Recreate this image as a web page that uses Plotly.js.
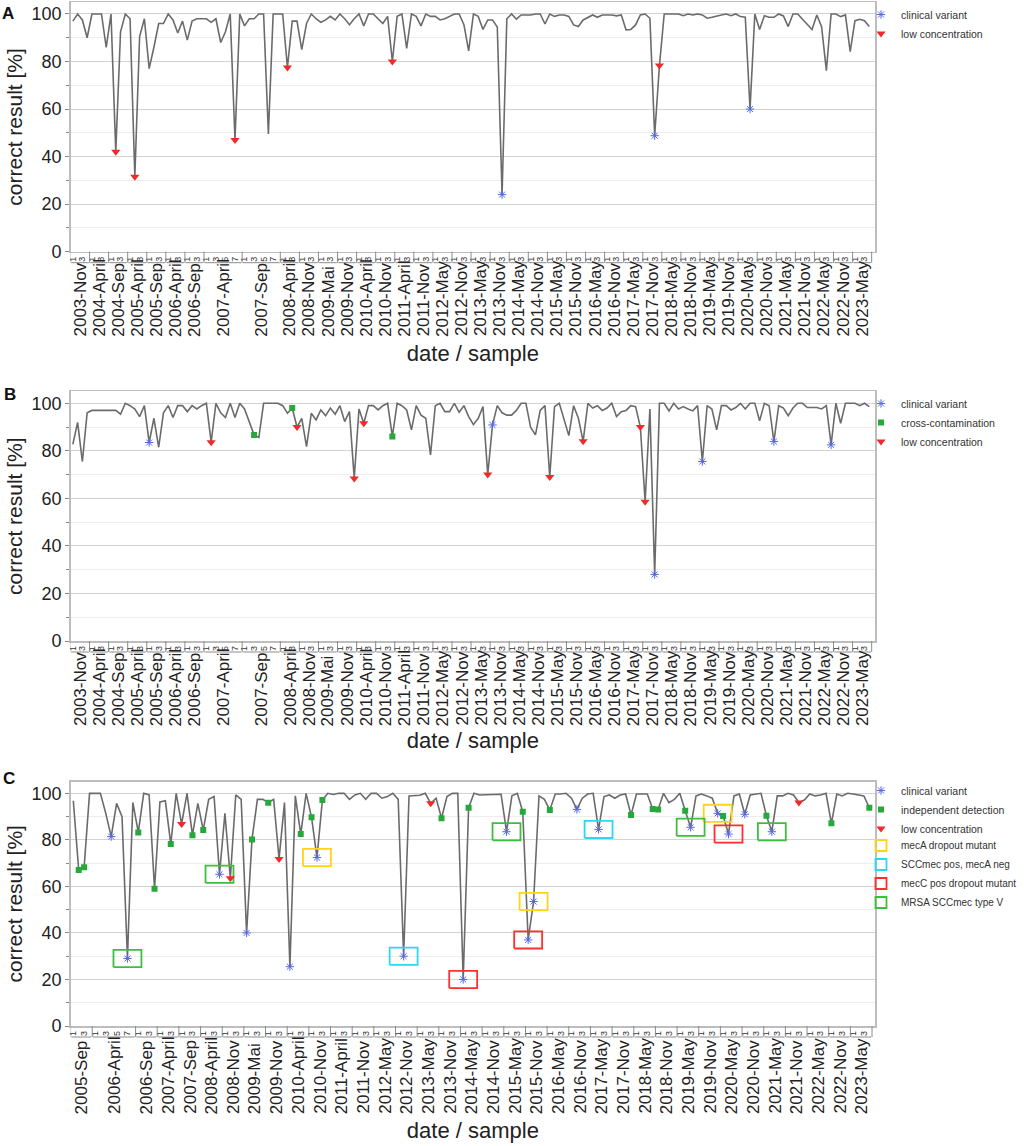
<!DOCTYPE html>
<html><head><meta charset="utf-8">
<script src="https://cdn.plot.ly/plotly-3.0.1.min.js"></script>
<style>html,body{margin:0;padding:0;background:#fff}#chart{width:1024px;height:1146px}</style>
</head><body><div id="chart"></div>
<script>
// ---------------- DATA ----------------
const groupsAB = ["2003-Nov","2004-April","2004-Sep","2005-April","2005-Sep","2006-April","2006-Sep","2007-April","2007-Sep","2008-April","2008-Nov","2009-Mai","2009-Nov","2010-April","2010-Nov","2011-April","2011-Nov","2012-May","2012-Nov","2013-May","2013-Nov","2014-May","2014-Nov","2015-May","2015-Nov","2016-May","2016-Nov","2017-May","2017-Nov","2018-May","2018-Nov","2019-May","2019-Nov","2020-May","2020-Nov","2021-May","2021-Nov","2022-May","2022-Nov","2023-May"];
const samplesPerGroupAB = [4,4,4,4,4,4,4,8,8,4,4,4,4,4,4,4,4,4,4,4,4,4,4,4,4,4,4,4,4,4,4,4,4,4,4,4,4,4,4,4];
const groupsC = ["2005-Sep","2006-April","2006-Sep","2007-April","2007-Sep","2008-April","2008-Nov","2009-Mai","2009-Nov","2010-April","2010-Nov","2011-April","2011-Nov","2012-May","2012-Nov","2013-May","2013-Nov","2014-May","2014-Nov","2015-May","2015-Nov","2016-May","2016-Nov","2017-May","2017-Nov","2018-May","2018-Nov","2019-May","2019-Nov","2020-May","2020-Nov","2021-May","2021-Nov","2022-May","2022-Nov","2023-May"];
const samplesPerGroupC = [4,8,4,4,4,4,4,4,4,4,4,4,4,4,4,4,4,4,4,4,4,4,4,4,4,4,4,4,4,4,4,4,4,4,4,4];

const valuesA = [
97,100,97.5,90,100,100,100,86,100,42,
92.5,100,98,31.5,90.5,98,77,86,96,96,
100,97.5,92,97,89,97,98,98,98,96.5,
98,88,92.5,100,47,100,95,98,98,100,
100,49.5,100,100,100,77.5,97,97,85,96,
100,98,96.5,97.5,99,97.5,100,98,95.5,98,
100,95,100,100,98,96,99,80,99,100,
85.5,100,99,95,100,99,99,97.5,98,99,
100,100,95.5,84.5,100,99,93.5,97.5,97.5,94.5,
24,98,100,97.8,99.6,99.6,99.6,100,100,95.8,
100,99,99.6,99.6,99,95.4,94.7,97.5,98.6,99.6,
98.6,99.6,99.6,99.6,99.2,99.6,93.3,93.5,95.4,99.6,
100,98.2,48.8,78.3,100,100,100,100,99.3,100,
99.6,100,99.6,98.2,98.6,99.2,99.6,100,99.3,100,
98.9,98.6,60,100,93.5,99.3,98.6,98.6,100,99.2,
94.7,100,100,97.8,95.8,93.5,99.6,94.7,76.2,100,
100,98.9,99.6,84.2,97.2,97.8,97.2,94.7];
const clinicalA = [90,122,142];
const lowConcA = [9,13,34,45,67,123];

const valuesB = [
82.7,92,75.5,96,97,97,97,97,97,97,
95.4,100,99,97.6,94.4,99,83.5,93.7,81.5,96,
99,94,99,99,96.5,99,97.6,99,100,83.6,
100,96,94,100,94,100,97.6,92.3,86.7,85.6,
100,100,100,100,99,95.8,98,90,93.7,81.8,
95.8,93,97.2,94.8,98,95.4,99,92.3,96.5,68.4,
97.6,91.6,99,99,97.2,99,100,86,100,99,
97.2,88.8,99,95,93.7,78.3,99,100,96.5,96.5,
100,96.2,99,94.4,91,93.7,98.6,70,90.9,99,
96,95,95,97,100,100,89.8,86.7,97,99,
69,98.6,100,93.7,86.4,99,93.7,84,100,98,
99,97,98,100,94.4,96.5,97,99,98.6,90,
58.6,97.6,28,100,100,96.8,100,97.6,98.6,97.6,
96.8,99,75.5,99,97.6,88.8,99,99,97.2,98.2,
100,97.6,100,100,92.6,100,99,83.9,99,98,
94.8,98,100,100,98.2,98.2,98.2,97.6,99,82.5,
100,91.6,100,100,100,99,100,98.6];
const clinicalB = [16,88,122,132,147,159];
const crossContB = [38,46,67];
const lowConcB = [29,47,59,61,87,100,107,119,120];

const valuesC = [
96.8,67,68.2,100,100,100,91.4,81.4,95.7,90,
29,96,83.2,100,99.3,59,96.3,96.8,78.2,100,
86.8,100,82,95.7,84.2,97.4,98.6,65.2,91.4,63.5,
99.3,97.4,40,80.2,97.4,97.4,96,97.4,71.8,96,
25.5,98.9,82.5,100,89.7,72.4,97.1,100,99.5,100,
100,97.4,99.3,100,97.4,100,100,97.9,98.6,100,
97.4,30,98.9,98.9,99.2,100,95.7,97.9,89.3,98.6,
100,100,20,93.8,100,99.3,99.3,99.6,99.3,99.6,
83.5,98.9,100,92.1,37,53.5,98.9,97.4,92.8,99.7,
99.7,100,97.9,93.1,97.9,99.7,100,84.5,98.6,99.3,
97.9,99.3,99.7,90.7,99.7,99.7,99.7,93.3,93.1,100,
96,97.4,100,92.5,85.4,98.9,99.7,98.9,97.9,91.4,
90.3,82.5,98.9,99.7,91,99.3,99.7,100,90.4,83.5,
98.9,98.9,100,99.3,96.1,97.1,99.7,98.9,99.3,100,
87.1,99.7,98.9,100,99.7,99.3,98.9,93.8];
const clinicalC = [7,10,27,32,40,45,61,72,80,84,85,93,97,114,119,121,124,129];
const indepC = [1,2,12,15,18,22,24,33,36,42,44,46,68,73,83,88,103,107,108,113,120,128,140,147];
const lowConcC = [20,29,38,66,134];
const boxMecA = [45,85,119];
const boxSCC = [61,97];
const boxMecC = [72,84,121];
const boxTypeV = [10,27,80,114,129];

// ---------------- STYLE / LAYOUT ----------------
const W = 1024, H = 1146;
const PX = v => v / W, PY = v => 1 - v / H;
const FONT = 'Liberation Sans, Arial, sans-serif';
const LINE_COL = '#6b6b6b';
const COL_CLIN = '#5468e6', COL_LOW = '#ee2a2a', COL_GREEN = '#27a83a';
const BOX_COL = {mecA:'#ffd31a', scc:'#2ed6f5', mecC:'#ff2f2f', typeV:'#3cbf3c'};

const panels = [
  {key:'A', xa:'x',  ya:'y',  leg:'legend',  top:2.1,   bottom:251.7, labBottom:338.5, range:[-0.45,168.2], standoff:85},
  {key:'B', xa:'x2', ya:'y2', leg:'legend2', top:391.4, bottom:641,   labBottom:728,   range:[-0.45,168.2], standoff:82},
  {key:'C', xa:'x3', ya:'y3', leg:'legend3', top:781.7, bottom:1026,  labBottom:1116,  range:[-0.48,148.05], standoff:87}
];
const plotLeft = 70.7, plotRight = 875;

const traces = [], annotations = [], shapes = [];
const layout = {
  width: W, height: H, margin:{l:0,r:0,t:0,b:0,autoexpand:false},
  paper_bgcolor:'#fff', plot_bgcolor:'#fff',
  font:{family:FONT, color:'#222'}, hovermode:false,
  annotations, shapes
};

function buildAxis(p, groups, sizes) {
  const tickvals = [], ticktext = [];
  let start = 0;
  let path = '';
  const yAxis = PY(p.bottom), yBr = PY(p.bottom + 11);
  groups.forEach((g, gi) => {
    const n = sizes[gi];
    for (let k = 0; k < n; k++) {
      if (k % 2 === 0) { tickvals.push(start + k); ticktext.push(String(k + 1)); }
    }
    annotations.push({text:g, xref:p.xa, yref:'paper', x:start + (n - 1) / 2, y:PY(p.labBottom),
      xanchor:'center', yanchor:'bottom', textangle:-90, showarrow:false,
      font:{size:17, color:'#222', family:FONT}});
    const b0 = start - 0.5, b1 = start + n - 0.5;
    path += `M${b0},${yAxis}V${yBr}M${b0 + 0.15},${yBr}H${b1 - 0.15}`;
    start += n;
  });
  path += `M${start - 0.5},${yAxis}V${yBr}`;
  shapes.push({type:'path', xref:p.xa, yref:'paper', path, line:{color:'#8c8c8c', width:1}});
  return {tickvals, ticktext, n:start};
}

function axes(p, ax) {
  const xName = p.xa === 'x' ? 'xaxis' : 'xaxis' + p.xa.slice(1);
  const yName = p.ya === 'y' ? 'yaxis' : 'yaxis' + p.ya.slice(1);
  layout[xName] = {
    domain:[PX(plotLeft), PX(plotRight)], range:p.range, anchor:p.ya,
    tickmode:'array', tickvals:ax.tickvals, ticktext:ax.ticktext, tickangle:-90,
    tickfont:{size:9, color:'#333'}, ticks:'', showgrid:false, zeroline:false,
    showline:true, mirror:true, linecolor:'#bdbdbd', linewidth:1.5,
    title:{text:'date / sample', font:{size:22, color:'#222'}, standoff:p.standoff}, automargin:false
  };
  layout[yName] = {
    domain:[PY(p.bottom), PY(p.top)], range:[0,105], anchor:p.xa,
    tick0:0, dtick:20, ticks:'outside', ticklen:4, tickcolor:'#8a8a8a',
    tickfont:{size:18, color:'#222'}, showgrid:true, gridcolor:'#d3d3d3', gridwidth:1,
    minor:{dtick:10, tick0:0, showgrid:true, gridcolor:'#ededed', ticks:'outside', ticklen:3, tickcolor:'#8a8a8a'},
    zeroline:false, showline:true, mirror:true, linecolor:'#bdbdbd', linewidth:1.5,
    title:{text:'correct result [%]', font:{size:21, color:'#222'}, standoff:3}, automargin:false
  };
}

function lineTrace(p, vals) {
  traces.push({type:'scatter', mode:'lines', x:vals.map((_, i) => i), y:vals, xaxis:p.xa, yaxis:p.ya,
    line:{color:LINE_COL, width:1.6}, showlegend:false, hoverinfo:'skip'});
}
function markerTrace(p, vals, idx, name, kind, legendName) {
  const m = kind === 'clin' ? {symbol:'asterisk-open', size:7, color:COL_CLIN, line:{width:1, color:COL_CLIN}}
          : kind === 'low' ? {symbol:'triangle-down', size:8, color:COL_LOW}
          : {symbol:'square', size:6, color:COL_GREEN};
  traces.push({type:'scatter', mode:'markers', x:idx, y:idx.map(i => vals[i]), xaxis:p.xa, yaxis:p.ya,
    marker:m, name, legend:legendName || p.leg, hoverinfo:'skip'});
}
function boxTrace(p, vals, idx, name, col, legendName) {
  const hx = 2.58, hy = 3.7, xs = [], ys = [];
  idx.forEach(i => {
    const v = vals[i];
    xs.push(i - hx, i + hx, i + hx, i - hx, i - hx, null);
    ys.push(v - hy, v - hy, v + hy, v + hy, v - hy, null);
  });
  traces.push({type:'scatter', mode:'lines', x:xs, y:ys, xaxis:p.xa, yaxis:p.ya,
    line:{color:col, width:1.8}, showlegend:false, legend:legendName, hoverinfo:'skip'});
  traces.push({type:'scatter', mode:'markers', x:[null], y:[null], xaxis:p.xa, yaxis:p.ya,
    marker:{symbol:'square-open', size:11, color:col, line:{width:1.8, color:col}},
    name, legend:legendName, hoverinfo:'skip'});
}

// Panel A
{
  const p = panels[0];
  axes(p, buildAxis(p, groupsAB, samplesPerGroupAB));
  lineTrace(p, valuesA);
  markerTrace(p, valuesA, clinicalA, 'clinical variant', 'clin');
  markerTrace(p, valuesA, lowConcA, 'low concentration', 'low');
}
// Panel B
{
  const p = panels[1];
  axes(p, buildAxis(p, groupsAB, samplesPerGroupAB));
  lineTrace(p, valuesB);
  markerTrace(p, valuesB, clinicalB, 'clinical variant', 'clin');
  markerTrace(p, valuesB, crossContB, 'cross-contamination', 'green');
  markerTrace(p, valuesB, lowConcB, 'low concentration', 'low');
}
// Panel C
{
  const p = panels[2];
  axes(p, buildAxis(p, groupsC, samplesPerGroupC));
  lineTrace(p, valuesC);
  boxTrace(p, valuesC, boxMecA, 'mecA dropout mutant', BOX_COL.mecA, 'legend4');
  boxTrace(p, valuesC, boxSCC, 'SCCmec pos, mecA neg', BOX_COL.scc, 'legend4');
  boxTrace(p, valuesC, boxMecC, 'mecC pos dropout mutant', BOX_COL.mecC, 'legend4');
  boxTrace(p, valuesC, boxTypeV, 'MRSA SCCmec type V', BOX_COL.typeV, 'legend4');
  markerTrace(p, valuesC, clinicalC, 'clinical variant', 'clin');
  markerTrace(p, valuesC, indepC, 'independent detection', 'green');
  markerTrace(p, valuesC, lowConcC, 'low concentration', 'low');
}

const legBase = {x:PX(861), xanchor:'left', yanchor:'top', bgcolor:'rgba(0,0,0,0)', borderwidth:0,
  font:{size:10.5, color:'#333', family:FONT}, itemwidth:30, tracegroupgap:0};
layout.legend  = Object.assign({}, legBase, {y:PY(0)});
layout.legend2 = Object.assign({}, legBase, {y:PY(389)});
layout.legend3 = Object.assign({}, legBase, {y:PY(776)});
layout.legend4 = Object.assign({}, legBase, {y:PY(831), font:{size:10, color:'#333', family:FONT}});

[['A',8,13.5],['B',9.5,394],['C',9,779]].forEach(([t, x, y]) => {
  annotations.push({text:'<b>' + t + '</b>', xref:'paper', yref:'paper', x:PX(x), y:PY(y),
    xanchor:'center', yanchor:'middle', showarrow:false, font:{size:17, color:'#111', family:FONT}});
});

Plotly.newPlot('chart', traces, layout, {staticPlot:true, displayModeBar:false});
</script>
</body></html>
